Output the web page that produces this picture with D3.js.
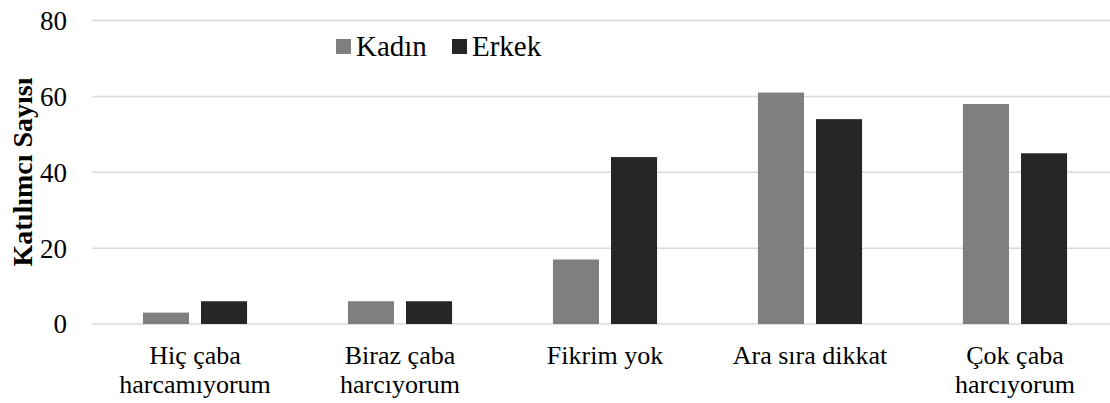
<!DOCTYPE html>
<html>
<head>
<meta charset="utf-8">
<script src="https://cdn.jsdelivr.net/npm/d3@7"></script>
<style>
  body { margin: 0; background: #fff; }
  svg text { font-family: 'Liberation Serif', 'Times New Roman', Tinos, Times, serif; }
</style>
</head>
<body>
<svg id="chart" width="1110" height="403"></svg>
<script>
const categories = [
  ["Hiç çaba", "harcamıyorum"],
  ["Biraz çaba", "harcıyorum"],
  ["Fikrim yok"],
  ["Ara sıra dikkat"],
  ["Çok çaba", "harcıyorum"]
]
const series = ["Kadın", "Erkek"]
const kadin = [3, 6, 17, 61, 58]
const erkek = [6, 6, 44, 54, 45]
const yTicks = [0, 20, 40, 60, 80]
const colors = ["#7f7f7f", "#262626"]

const values = [kadin, erkek]
const svg = d3.select('#chart')

const x = d3.scaleBand()
  .domain(d3.range(categories.length))
  .range([92.5, 1117.5])

const bw = x.bandwidth()
const xs = d3.scaleBand()
  .domain(series)
  .range([0.246 * bw, 0.754 * bw])
  .paddingInner(0.207)

const y = d3.scaleLinear()
  .domain([0, 80])
  .range([324, 20.5])

// gridlines
svg.append('g')
  .selectAll('line')
  .data(yTicks)
  .join('line')
  .attr('x1', 92.5)
  .attr('x2', 1110)
  .attr('y1', d => y(d))
  .attr('y2', d => y(d))
  .attr('stroke', '#d9d9d9')
  .attr('stroke-width', 1.5)

// y tick labels
svg.append('g')
  .selectAll('text')
  .data(yTicks)
  .join('text')
  .attr('x', 67)
  .attr('y', d => y(d))
  .attr('dy', '0.35em')
  .attr('text-anchor', 'end')
  .attr('font-size', 27)
  .text(d => d)

// bars
svg.append('g')
  .selectAll('g')
  .data(series)
  .join('g')
  .attr('fill', (d, i) => colors[i])
  .selectAll('rect')
  .data((s, si) => values[si].map((v, ci) => ({s, v, ci})))
  .join('rect')
  .attr('x', d => x(d.ci) + xs(d.s))
  .attr('width', xs.bandwidth())
  .attr('y', d => y(d.v))
  .attr('height', d => y(0) - y(d.v))

// category labels, one text per line
const labelLines = categories.flatMap((lines, ci) => lines.map((t, li) => ({t, ci, li})))
svg.append('g')
  .selectAll('text')
  .data(labelLines)
  .join('text')
  .attr('x', d => x(d.ci) + bw / 2)
  .attr('y', d => 364 + d.li * 29)
  .attr('text-anchor', 'middle')
  .attr('font-size', 26)
  .text(d => d.t)

// y axis title
svg.append('text')
  .attr('transform', 'translate(32,172) rotate(-90)')
  .attr('text-anchor', 'middle')
  .attr('font-size', 28)
  .attr('font-weight', 'bold')
  .text('Katılımcı Sayısı')

// legend
const legend = svg.append('g')
  .selectAll('g')
  .data(series)
  .join('g')
  .attr('transform', (d, i) => `translate(${[336, 452][i]},0)`)

legend.append('rect')
  .attr('y', 39)
  .attr('width', 15)
  .attr('height', 15)
  .attr('fill', (d, i) => colors[i])

legend.append('text')
  .attr('x', 20)
  .attr('y', 56)
  .attr('font-size', 29)
  .text(d => d)
</script>
</body>
</html>
